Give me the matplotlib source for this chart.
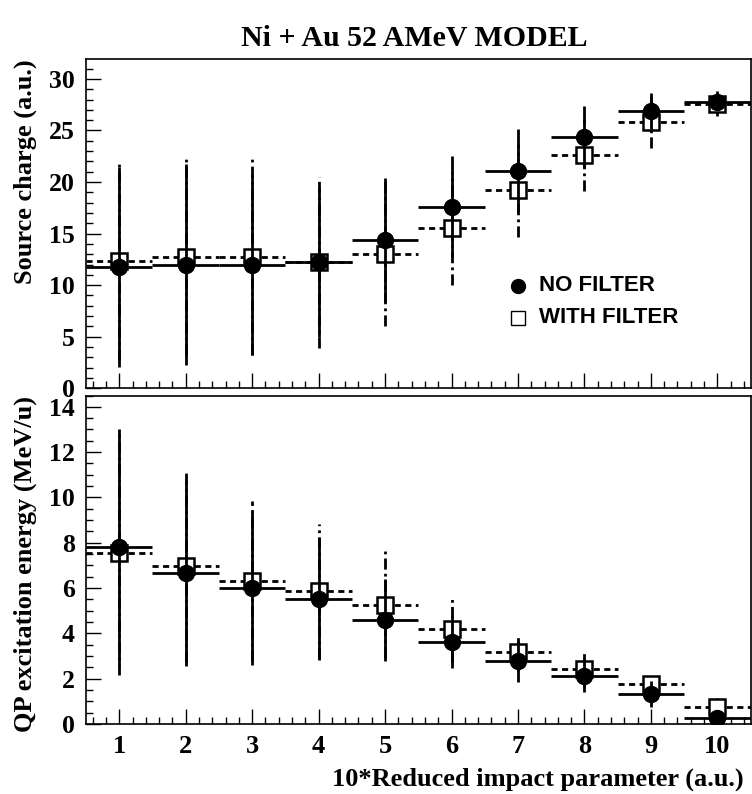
import matplotlib
matplotlib.use("Agg")
import matplotlib.pyplot as plt
import numpy as np
from matplotlib.ticker import MultipleLocator

# ---- data ----
bins = [1, 2, 3, 4, 5, 6, 7, 8, 9, 10]

charge_nofilter = [11.8, 12.0, 12.0, 12.2, 14.4, 17.6, 21.1, 24.4, 26.9, 27.8]
charge_nofilter_err = [9.7, 9.7, 8.8, 7.2, 6.0, 4.9, 4.0, 3.0, 1.75, 0.6]
charge_filter = [12.3, 12.7, 12.7, 12.2, 13.0, 15.5, 19.2, 22.6, 25.8, 27.6]
charge_filter_err = [9.6, 9.5, 9.5, 8.3, 7.0, 5.5, 4.5, 3.5, 2.5, 1.2]

estar_nofilter = [7.82, 6.65, 6.01, 5.53, 4.60, 3.62, 2.76, 2.14, 1.33, 0.25]
estar_nofilter_err = [5.2, 4.1, 3.4, 2.7, 1.8, 1.15, 0.9, 0.71, 0.56, 0.1]
estar_filter = [7.56, 6.96, 6.30, 5.86, 5.27, 4.21, 3.16, 2.42, 1.76, 0.77]
estar_filter_err = [5.4, 4.24, 3.54, 2.98, 2.36, 1.46, 0.81, 0.78, 0.36, 0.37]

title = "Ni + Au 52 AMeV MODEL"
ylabel_top = "Source charge (a.u.)"
ylabel_bot = "QP excitation energy (MeV/u)"
xlabel = "10*Reduced impact parameter (a.u.)"
legend_labels = ["NO FILTER", "WITH FILTER"]

SERIF = ["Liberation Serif", "DejaVu Serif"]
SANS = ["Liberation Sans", "DejaVu Sans"]

fig = plt.figure(figsize=(7.52, 7.94), dpi=100)
W, H = 752.0, 794.0
left, right = 86.0, 750.6
ax1 = fig.add_axes([left / W, 1 - 388.3 / H, (right - left) / W, (388.3 - 59.3) / H])
ax2 = fig.add_axes([left / W, 1 - 724.0 / H, (right - left) / W, (724.0 - 395.5) / H])


def draw(ax, y_nf, e_nf, y_f, e_f):
    # with filter: dashed, open squares (drawn underneath)
    eb2 = ax.errorbar(bins, y_f, xerr=0.5, yerr=e_f, fmt='s', color='black',
                      mfc='white', mec='black', mew=1.8, ms=11,
                      elinewidth=2.0, capsize=0, zorder=3)
    eb2[2][0].set_linestyle((0, (2.2, 1.6)))
    eb2[2][1].set_linestyle((0, (4, 1.5, 1, 1.5)))
    # no filter: solid, filled circles (drawn on top)
    ax.errorbar(bins, y_nf, xerr=0.5, yerr=e_nf, fmt='o', color='black',
                ms=11.5, elinewidth=2.0, capsize=0, zorder=4)


draw(ax1, charge_nofilter, charge_nofilter_err, charge_filter, charge_filter_err)
draw(ax2, estar_nofilter, estar_nofilter_err, estar_filter, estar_filter_err)

for ax in (ax1, ax2):
    ax.set_xlim(0.5, 10.5)
    ax.xaxis.set_major_locator(MultipleLocator(1))
    ax.xaxis.set_minor_locator(MultipleLocator(0.2))
    ax.tick_params(which='both', direction='in', top=False, right=False,
                   width=1.0)
    ax.tick_params(which='major', length=11)
    ax.tick_params(which='minor', length=5)
    for s in ax.spines.values():
        s.set_linewidth(1.2)

ax1.set_ylim(0, 31.9)
ax1.yaxis.set_major_locator(MultipleLocator(5))
ax1.yaxis.set_minor_locator(MultipleLocator(1))
ax1.tick_params(axis='x', labelbottom=False)

ax2.set_ylim(0, 14.5)
ax2.yaxis.set_major_locator(MultipleLocator(2))
ax2.yaxis.set_minor_locator(MultipleLocator(0.5))

for ax in (ax1, ax2):
    for lab in ax.get_yticklabels():
        lab.set_fontfamily(SERIF)
        lab.set_fontweight('bold')
        lab.set_fontsize(18.5)
    ax.tick_params(axis='y', pad=8)
for lab in ax2.get_xticklabels():
    lab.set_fontfamily(SERIF)
    lab.set_fontweight('bold')
    lab.set_fontsize(19)
ax2.tick_params(axis='x', pad=8)

ax1.set_ylabel(ylabel_top, fontfamily=SERIF, fontweight='bold', fontsize=19,
               ha='right', y=1.0)
ax1.yaxis.set_label_coords(-0.074, 1.0)
ax2.set_ylabel(ylabel_bot, fontfamily=SERIF, fontweight='bold', fontsize=19,
               ha='right', y=1.0)
ax2.yaxis.set_label_coords(-0.074, 1.0)
ax2.set_xlabel(xlabel, fontfamily=SERIF, fontweight='bold', fontsize=19,
               ha='right', x=1.0)
ax2.xaxis.set_label_coords(0.99, -0.133)

fig.text(414 / W, 1 - 38 / H, title, ha='center', va='center',
         fontfamily=SERIF, fontweight='bold', fontsize=21.5)

# legend (manual, inside top panel)
leg_x_px, leg_text_px = 518.0, 539.0
for i, (lab, mk) in enumerate(zip(legend_labels, ['o', 's'])):
    ypx = 286.0 + i * 31.7
    xf = (leg_x_px) / W
    yf = 1 - ypx / H
    if mk == 'o':
        fig.lines.append(plt.Line2D([xf], [yf], marker='o', ms=10, color='black',
                                    mfc='black', transform=fig.transFigure))
    else:
        fig.lines.append(plt.Line2D([xf], [yf], marker='s', ms=10, color='black',
                                    mfc='white', mew=1.0, transform=fig.transFigure))
    fig.text(leg_text_px / W, yf, lab, ha='left', va='center',
             fontfamily=SANS, fontweight='bold', fontsize=16)

fig.savefig("out.png", dpi=100)
